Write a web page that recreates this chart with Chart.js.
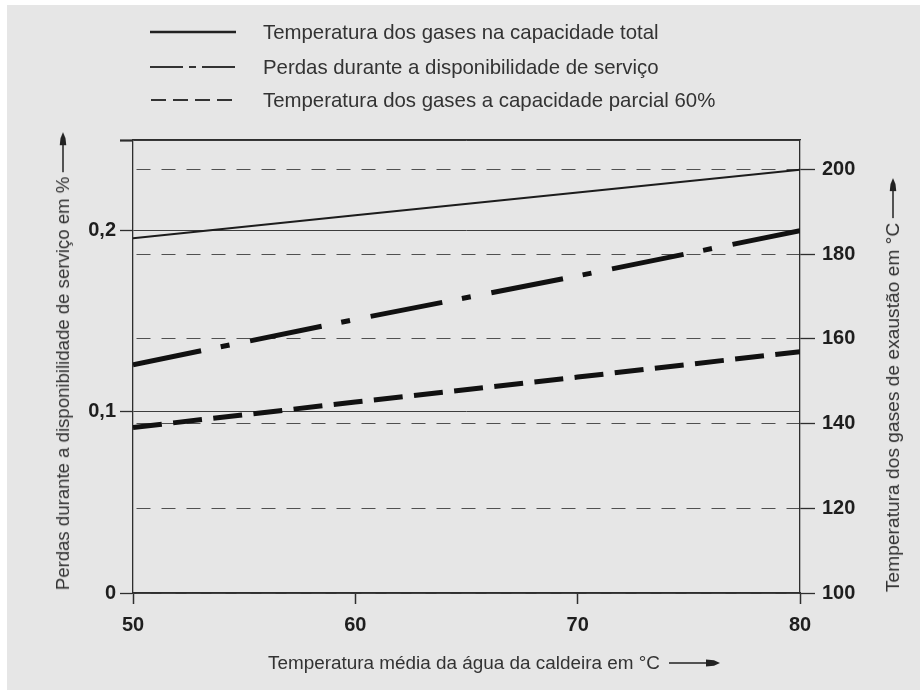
<!DOCTYPE html>
<html>
<head>
<meta charset="utf-8">
<script src="https://cdn.jsdelivr.net/npm/chart.js@4.4.0/dist/chart.umd.min.js"></script>
<style>
    html, body { margin: 0; padding: 0; background: #ffffff; }
    #wrap { position: relative; width: 920px; height: 690px; overflow: hidden;
            font-family: "Liberation Sans", Arial, sans-serif; color: #333; }
    #panel { position: absolute; left: 7px; top: 5px; right: 0; bottom: 0; background: #e6e6e6; }
    #chart { position: absolute; left: 0; top: 0; }
    .leg { position: absolute; left: 150px; height: 24px; display: flex; align-items: center; font-size: 20.4px; }
    .leg svg { display: block; }
    .leg span { position: absolute; left: 113px; white-space: nowrap; line-height: 24px; }
    .title { position: absolute; display: flex; align-items: center; white-space: nowrap;
             font-size: 18.9px; line-height: 24px; color: #333; }
    .title svg { margin-left: 9px; display: block; }
    .vert { transform: translate(-50%, -50%) rotate(-90deg); }
    .vert svg { margin-left: 5px; }
</style>
</head>
<body>
<div id="wrap">
    <div id="panel"></div>
    <canvas id="chart" width="920" height="690"></canvas>

    <div class="leg" style="top:20px">
        <svg width="88" height="10"><line x1="0" y1="5" x2="86" y2="5" stroke="#222" stroke-width="2.6"/></svg>
        <span id="leg0"></span>
    </div>
    <div class="leg" style="top:55px">
        <svg width="88" height="10"><line x1="0" y1="5" x2="85" y2="5" stroke="#333" stroke-width="1.8" stroke-dasharray="33 6 7 6 33"/></svg>
        <span id="leg1"></span>
    </div>
    <div class="leg" style="top:88px">
        <svg width="88" height="10"><line x1="1" y1="5" x2="86" y2="5" stroke="#333" stroke-width="1.8" stroke-dasharray="15 7"/></svg>
        <span id="leg2"></span>
    </div>

    <div class="title" id="xTitle" style="left:268px; top:651px"></div>
    <div class="title vert" id="yTitle" style="left:63px; top:361px; font-size:18.6px"></div>
    <div class="title vert" id="y1Title" style="left:893px; top:385px; font-size:19.2px"></div>
</div>
<script>
// Temperatura média da água da caldeira (°C)
const waterTemp = [50, 60, 70, 80];
// Temperatura dos gases na capacidade total (°C, eixo direito)
const gasTempFull = [183.8, 189.2, 194.6, 200];
// Perdas durante a disponibilidade de serviço (%, eixo esquerdo)
const standbyLoss = [0.126, 0.151, 0.175, 0.2];
// Temperatura dos gases a capacidade parcial 60% (°C, eixo direito)
const gasTempPartial = [139.1, 145.1, 151.0, 157.0];

const xTicks = [50, 60, 70, 80];
const lossTicks = [0, 0.1, 0.2];
const tempTicks = [100, 120, 140, 160, 180, 200];

const seriesLabels = [
    'Temperatura dos gases na capacidade total',
    'Perdas durante a disponibilidade de serviço',
    'Temperatura dos gases a capacidade parcial 60%'
];
const xTitle = 'Temperatura média da água da caldeira em °C';
const yTitle = 'Perdas durante a disponibilidade de serviço em %';
const y1Title = 'Temperatura dos gases de exaustão em °C';

const longArrow = '<svg width="52" height="12"><line x1="0" y1="6" x2="40" y2="6" stroke="#222" stroke-width="1.5"/>' +
    '<polygon points="37,2.5 45,3.2 51,6 45,8.8 37,9.5" fill="#222"/></svg>';
const shortArrow = '<svg width="40" height="12"><line x1="0" y1="6" x2="30" y2="6" stroke="#222" stroke-width="1.5"/>' +
    '<polygon points="27,2.8 34,3.4 40,6 34,8.6 27,9.2" fill="#222"/></svg>';

function setTitle(id, text, arrow) {
    const el = document.getElementById(id);
    el.innerHTML = '<span></span>' + arrow;
    el.firstChild.textContent = text;
}
seriesLabels.forEach((t, i) => { document.getElementById('leg' + i).textContent = t; });
setTitle('xTitle', xTitle, longArrow);
setTitle('yTitle', yTitle, shortArrow);
setTitle('y1Title', y1Title, shortArrow);

const toPoints = values => waterTemp.map((x, i) => ({ x: x, y: values[i] }));
const tickFont = { family: 'Liberation Sans', size: 20, weight: 'bold' };
const frameColor = '#2e2e2e';

new Chart(document.getElementById('chart').getContext('2d'), {
    type: 'line',
    data: {
        datasets: [
            {
                label: seriesLabels[0],
                data: toPoints(gasTempFull),
                yAxisID: 'y1',
                borderColor: '#1c1c1c',
                borderWidth: 2,
                pointRadius: 0
            },
            {
                label: seriesLabels[1],
                data: toPoints(standbyLoss),
                yAxisID: 'y',
                borderColor: '#111111',
                borderWidth: 5,
                borderDash: [73, 20, 9, 21],
                borderDashOffset: 3.5,
                pointRadius: 0
            },
            {
                label: seriesLabels[2],
                data: toPoints(gasTempPartial),
                yAxisID: 'y1',
                borderColor: '#111111',
                borderWidth: 5,
                borderDash: [29, 11.4],
                pointRadius: 0
            }
        ]
    },
    options: {
        responsive: false,
        devicePixelRatio: 1,
        animation: false,
        layout: { padding: 0 },
        plugins: {
            legend: { display: false },
            tooltip: { enabled: false }
        },
        scales: {
            x: {
                type: 'linear',
                position: 'bottom',
                min: 50,
                max: 80,
                afterBuildTicks: axis => { axis.ticks = xTicks.map(v => ({ value: v })); },
                afterFit: axis => { axis.height = 97; },
                grid: { drawOnChartArea: false, tickLength: 11, tickWidth: 1.5, tickColor: frameColor },
                border: { color: frameColor, width: 1.5 },
                ticks: { font: tickFont, color: '#1e1e1e', padding: 9, maxRotation: 0 }
            },
            x2: {
                type: 'linear',
                position: 'top',
                min: 50,
                max: 80,
                afterFit: axis => { axis.height = 140; },
                grid: { display: false, drawTicks: false },
                border: { color: frameColor, width: 1.3 },
                ticks: { display: false }
            },
            y: {
                type: 'linear',
                position: 'left',
                min: 0,
                max: 0.25,
                afterBuildTicks: axis => { axis.ticks = lossTicks.concat([axis.max]).map(v => ({ value: v })); },
                afterFit: axis => { axis.width = 133; },
                grid: {
                    color: '#3c3c3c',
                    lineWidth: 1,
                    tickLength: 13,
                    tickColor: frameColor,
                    tickWidth: ctx => (ctx.tick && ctx.tick.value === 0.25) ? 2.2 : 1.3
                },
                border: { color: frameColor, width: 1.3 },
                ticks: {
                    font: tickFont,
                    color: '#1e1e1e',
                    padding: 4,
                    callback: v => lossTicks.includes(v) ? String(v).replace('.', ',') : ''
                }
            },
            y1: {
                type: 'linear',
                position: 'right',
                min: 100,
                max: 207,
                afterBuildTicks: axis => { axis.ticks = tempTicks.map(v => ({ value: v })); },
                afterFit: axis => { axis.width = 120; },
                grid: {
                    color: '#505050',
                    lineWidth: 1,
                    tickLength: 15,
                    tickColor: frameColor,
                    tickWidth: 1.3
                },
                border: { color: frameColor, width: 1.3, dash: [14, 11], dashOffset: 21.5 },
                ticks: { font: tickFont, color: '#1e1e1e', padding: 7, callback: v => String(v) }
            }
        }
    }
});
</script>
</body>
</html>
